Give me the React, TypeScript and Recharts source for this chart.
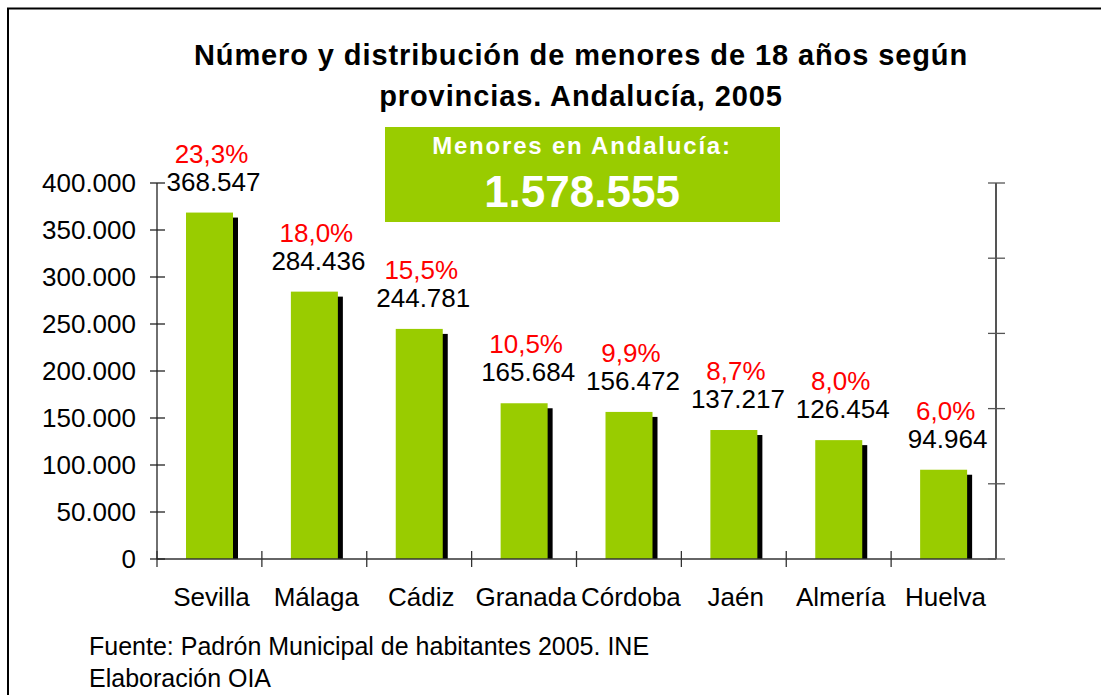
import React from 'react';
import { ComposedChart, Bar, Line, XAxis, YAxis, LabelList } from 'recharts';

const provinces = ['Sevilla', 'Málaga', 'Cádiz', 'Granada', 'Córdoba', 'Jaén', 'Almería', 'Huelva'];
const menores = [368547, 284436, 244781, 165684, 156472, 137217, 126454, 94964];
const percents = ['23,3%', '18,0%', '15,5%', '10,5%', '9,9%', '8,7%', '8,0%', '6,0%'];
const leftTicks = [0, 50000, 100000, 150000, 200000, 250000, 300000, 350000, 400000];
const rightTicks = [0, 80000, 160000, 240000, 320000, 400000];
const titleLines = ['Número y distribución de menores de 18 años según', 'provincias. Andalucía, 2005'];
const boxTitle = 'Menores en Andalucía:';
const boxTotal = '1.578.555';
const footerLines = ['Fuente: Padrón Municipal de habitantes 2005. INE', 'Elaboración OIA'];

const data = provinces.map((p, i) => ({ name: p, value: menores[i], pct: percents[i] }));

const FONT = '"Liberation Sans", Arial, sans-serif';
const GREEN = '#99CC00';
const FS = 26;

const fmt = (v: number) => {
  const s = String(Math.round(v));
  return s.replace(/\B(?=(\d{3})+(?!\d))/g, '.');
};

const ShadowBar = (props: any) => {
  const { x, y, width, height } = props;
  if (height == null || height <= 0) return null;
  return (
    <g>
      <rect x={x + 5} y={y + 5} width={width} height={Math.max(0, height - 5)} fill="#000" />
      <rect x={x} y={y} width={width} height={height} fill={GREEN} />
    </g>
  );
};

const LeftTick = (props: any) => {
  const { x, y, payload } = props;
  return (
    <g>
      <line x1={x - 7} x2={x + 8} y1={y} y2={y} stroke="#222" strokeWidth={1.3} />
      <text x={x - 21} y={y} textAnchor="end" dominantBaseline="central" fontFamily={FONT} fontSize={FS} fill="#000">
        {fmt(payload.value)}
      </text>
    </g>
  );
};

const renderRightTick = (props: any) => {
  const { x, y, index } = props;
  return <line key={`rt-${index}`} x1={x - 8} x2={x + 9} y1={y} y2={y} stroke="#555" strokeWidth={1.3} />;
};

const CatTick = (props: any) => {
  const { x, y, payload } = props;
  const off = payload.offset || 0;
  return (
    <g>
      <line x1={x - off} x2={x - off} y1={y - 8} y2={y + 8} stroke="#333" strokeWidth={1.3} />
      <text x={x + 2} y={y + 38} textAnchor="middle" dominantBaseline="central" fontFamily={FONT} fontSize={FS} fill="#000">
        {payload.value}
      </text>
    </g>
  );
};

const renderLabel = (props: any) => {
  const { x, y, width, index, value } = props;
  const cx = x + width / 2;
  return (
    <g>
      <text x={cx + 2} y={y - 59} textAnchor="middle" dominantBaseline="central" fontFamily={FONT} fontSize={FS} fill="#FF0000">
        {percents[index]}
      </text>
      <text x={cx + 4} y={y - 31} textAnchor="middle" dominantBaseline="central" fontFamily={FONT} fontSize={FS} fill="#000">
        {fmt(value)}
      </text>
    </g>
  );
};

export default function App() {
  return (
    <div style={{ position: 'absolute', left: 0, top: 0, width: 1101, height: 695, background: '#fff', overflow: 'hidden' }}>
      <svg width={1101} height={695} style={{ position: 'absolute', left: 0, top: 0 }}>
        <rect x={8} y={8.5} width={1200} height={1000} fill="#fff" stroke="#000" strokeWidth={2} />
        <text x={581} y={65} textAnchor="middle" fontFamily={FONT} fontSize={29} fontWeight="bold" letterSpacing={0.9} fill="#000">
          {titleLines[0]}
        </text>
        <text x={581} y={106} textAnchor="middle" fontFamily={FONT} fontSize={29} fontWeight="bold" letterSpacing={0.9} fill="#000">
          {titleLines[1]}
        </text>
        <rect x={385} y={127} width={395} height={95} fill={GREEN} />
        <text x={582} y={154} textAnchor="middle" fontFamily={FONT} fontSize={24} fontWeight="bold" letterSpacing={1.8} fill="#fff">
          {boxTitle}
        </text>
        <text x={582} y={207} textAnchor="middle" fontFamily={FONT} fontSize={44} fontWeight="bold" fill="#fff">
          {boxTotal}
        </text>
        <text x={89} y={655} fontFamily={FONT} fontSize={25} fill="#000">
          {footerLines[0]}
        </text>
        <text x={89} y={687} fontFamily={FONT} fontSize={25} fill="#000">
          {footerLines[1]}
        </text>
      </svg>
      <div style={{ position: 'absolute', left: 0, top: 0 }}>
        <ComposedChart width={1101} height={695} data={data} margin={{ top: 183, right: 95, bottom: 86, left: 47 }} barSize={47}>
          <XAxis
            dataKey="name"
            height={50}
            interval={0}
            axisLine={{ stroke: '#333', strokeWidth: 1.3 }}
            tickLine={false}
            tickSize={0}
            tickMargin={0}
            tick={<CatTick />}
          />
          <YAxis
            yAxisId="left"
            width={110}
            domain={[0, 400000]}
            ticks={leftTicks}
            interval={0}
            axisLine={{ stroke: '#222', strokeWidth: 1.3 }}
            tickLine={false}
            tickSize={0}
            tickMargin={0}
            tick={<LeftTick />}
          />
          <YAxis
            yAxisId="right"
            orientation="right"
            width={10}
            domain={[0, 400000]}
            ticks={rightTicks}
            interval={0}
            axisLine={{ stroke: '#555', strokeWidth: 2 }}
            tickLine={false}
            tickSize={0}
            tickMargin={0}
            tick={renderRightTick}
          />
          <Bar yAxisId="left" dataKey="value" shape={<ShadowBar />} isAnimationActive={false}>
            <LabelList dataKey="value" content={renderLabel} />
          </Bar>
          <Line yAxisId="right" dataKey="value" stroke="none" dot={false} activeDot={false} legendType="none" isAnimationActive={false} />
        </ComposedChart>
      </div>
    </div>
  );
}
